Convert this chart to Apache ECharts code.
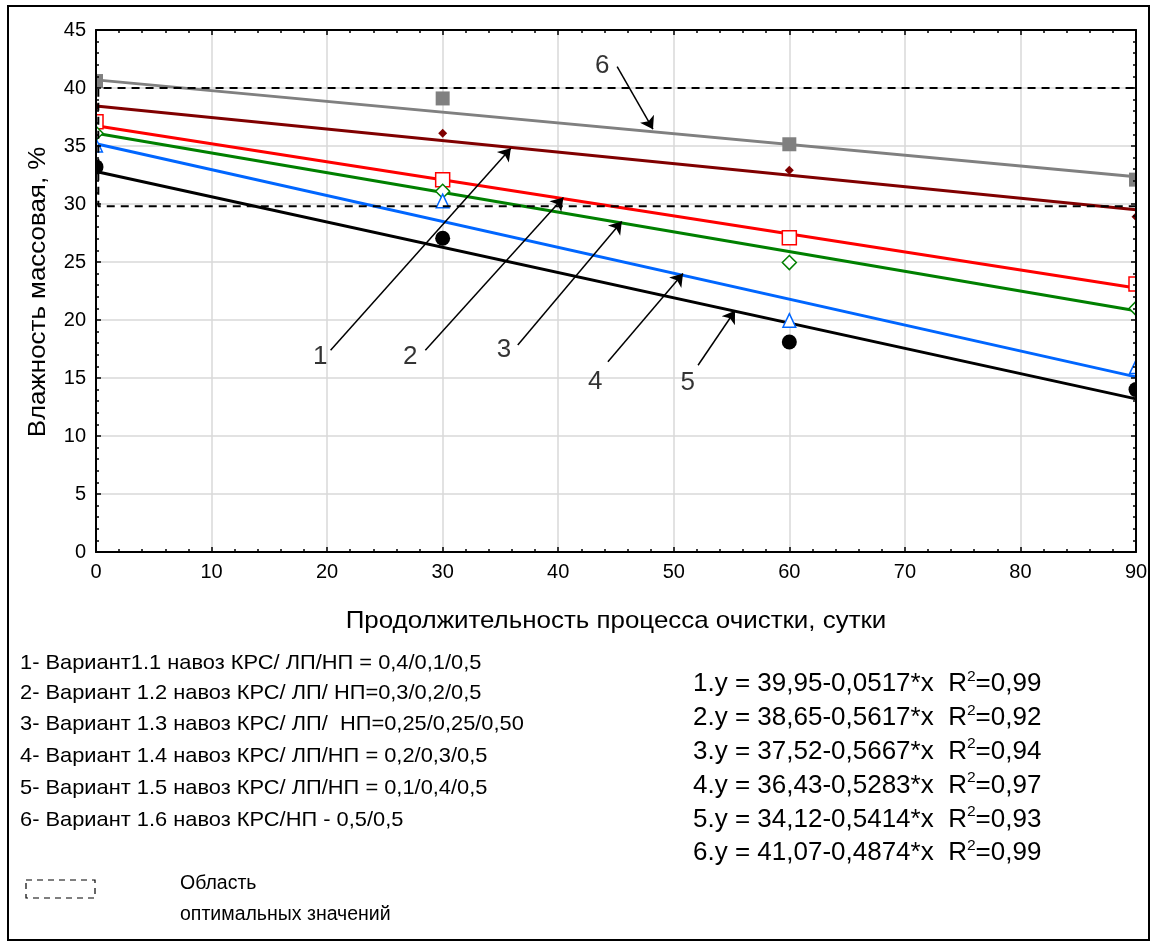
<!DOCTYPE html>
<html>
<head>
<meta charset="utf-8">
<script src="https://cdn.jsdelivr.net/npm/echarts@6/dist/echarts.min.js"></script>
<style>
html,body{margin:0;padding:0;background:#fff;}
#chart{width:1152px;height:944px;}
</style>
</head>
<body>
<div id="chart"></div>
<script>
// ---- data ----
const days = [0, 30, 60, 90];
const variant1 = [38.4, 36.1, 32.9, 28.9];   // dark red diamonds
const variant2 = [37.1, 32.1, 27.1, 23.1];   // red open squares
const variant3 = [36.1, 31.1, 24.95, 21.0];  // green open diamonds
const variant4 = [35.0, 30.2, 19.9, 15.9];   // blue open triangles
const variant5 = [33.2, 27.05, 18.1, 14.0];  // black circles
const variant6 = [40.6, 39.1, 35.15, 32.1];  // gray squares

const fitX = [0, 90];
const fit1 = [38.45, 29.5];
const fit2 = [36.75, 22.75];
const fit3 = [36.1, 20.8];
const fit4 = [35.2, 15.1];
const fit5 = [32.8, 13.2];
const fit6 = [40.7, 32.35];

// optimal region (dashed box)
const optimalBox = [[91, 40], [0.2, 40], [0.2, 29.8], [91, 29.8]];

// annotation arrows: [start, end]
const arrows = [
  [[20.3, 17.4], [35.9, 34.8]],
  [[28.5, 17.4], [40.45, 30.55]],
  [[36.5, 17.85], [45.5, 28.5]],
  [[44.3, 16.4], [50.8, 24.0]],
  [[52.1, 16.1], [55.3, 20.8]],
  [[45.1, 41.84], [48.2, 36.45]]
];
const arrowLabels = [
  ['1', 19.4, 16.8],
  ['2', 27.2, 16.8],
  ['3', 35.3, 17.4],
  ['4', 43.2, 14.7],
  ['5', 51.2, 14.55],
  ['6', 43.8, 41.9]
];

const xTicks = [0, 10, 20, 30, 40, 50, 60, 70, 80, 90];
const yTicks = [0, 5, 10, 15, 20, 25, 30, 35, 40, 45];

const xTitle = 'Продолжительность процесса очистки, сутки';
const yTitle = 'Влажность массовая, %';

const legendLines = [
  '1- Вариант1.1 навоз КРС/ ЛП/НП = 0,4/0,1/0,5',
  '2- Вариант 1.2 навоз КРС/ ЛП/ НП=0,3/0,2/0,5',
  '3- Вариант 1.3 навоз КРС/ ЛП/  НП=0,25/0,25/0,50',
  '4- Вариант 1.4 навоз КРС/ ЛП/НП = 0,2/0,3/0,5',
  '5- Вариант 1.5 навоз КРС/ ЛП/НП = 0,1/0,4/0,5',
  '6- Вариант 1.6 навоз КРС/НП - 0,5/0,5'
];
const equations = [
  ['1.y = 39,95-0,0517*x  R', '=0,99'],
  ['2.y = 38,65-0,5617*x  R', '=0,92'],
  ['3.y = 37,52-0,5667*x  R', '=0,94'],
  ['4.y = 36,43-0,5283*x  R', '=0,97'],
  ['5.y = 34,12-0,5414*x  R', '=0,93'],
  ['6.y = 41,07-0,4874*x  R', '=0,99']
];
const boxLegend = ['Область', 'оптимальных значений'];

// ---- chart ----
const FONT = '"Liberation Sans", Arial, sans-serif';
const chart = echarts.init(document.getElementById('chart'));

function pts(xs, ys) { return xs.map((x, i) => [x, ys[i]]); }

function fitSeries(ys, color) {
  return {
    type: 'line', data: pts(fitX, ys), symbol: 'none', z: 3,
    lineStyle: { color: color, width: 3 }, silent: true, animation: false
  };
}
function markSeries(ys, kind, s, fill, stroke, lw) {
  return {
    type: 'custom', data: pts(days, ys), z: 5, clip: false, silent: true, animation: false,
    encode: { x: 0, y: 1 },
    renderItem: function (params, api) {
      const p = api.coord([api.value(0), api.value(1)]);
      const x = p[0], y = p[1], h = s / 2;
      const style = { fill: fill, stroke: stroke, lineWidth: lw };
      if (kind === 'rect') return { type: 'rect', shape: { x: x - h, y: y - h, width: s, height: s }, style: style };
      if (kind === 'circle') return { type: 'circle', shape: { cx: x, cy: y, r: h }, style: style };
      if (kind === 'diamond') return { type: 'polygon', shape: { points: [[x, y - h], [x + h, y], [x, y + h], [x - h, y]] }, style: style };
      return { type: 'polygon', shape: { points: [[x, y - h], [x + h * 0.85, y + h * 0.8], [x - h * 0.85, y + h * 0.8]] }, style: style };
    }
  };
}

const graphics = [];
// outer frame
graphics.push({ type: 'rect', z: 40, shape: { x: 8, y: 6, width: 1141, height: 934 }, style: { fill: 'none', stroke: '#000', lineWidth: 2 } });
// axis titles
graphics.push({ type: 'text', z: 40, x: 616, y: 621, scaleX: 1.08, style: { text: xTitle, font: '24px ' + FONT, fill: '#000', textAlign: 'center', textVerticalAlign: 'middle' } });
graphics.push({ type: 'text', z: 40, x: 38, y: 292, rotation: Math.PI / 2, scaleX: 1.08, style: { text: yTitle, font: '24px ' + FONT, fill: '#000', textAlign: 'center', textVerticalAlign: 'middle' } });
// legend lines
const legY = [663, 693.5, 724.5, 756, 788, 820];
legendLines.forEach((t, i) => {
  graphics.push({ type: 'text', z: 40, x: 20, y: legY[i], scaleX: 1.04, style: { text: t, font: '21px ' + FONT, fill: '#000', textAlign: 'left', textVerticalAlign: 'middle' } });
});
// equations
const eqY = [683, 717, 750.5, 784.5, 818.5, 852];
equations.forEach((e, i) => {
  graphics.push({ type: 'text', z: 40, x: 693, y: eqY[i], scaleX: 1.04, style: {
    text: '{n|' + e[0] + '}{s|2}{n|' + e[1] + '}',
    rich: {
      n: { fontSize: 25, fontFamily: FONT, fill: '#000', color: '#000', lineHeight: 28, verticalAlign: 'bottom' },
      s: { fontSize: 15, fontFamily: FONT, fill: '#000', color: '#000', lineHeight: 28, verticalAlign: 'top', padding: [0, 0, 11, 0] }
    },
    textAlign: 'left', textVerticalAlign: 'middle' } });
});
// dashed box legend
graphics.push({ type: 'rect', z: 40, shape: { x: 26, y: 880, width: 69, height: 18 }, style: { fill: 'none', stroke: '#000', lineWidth: 1.2, lineDash: [6, 5] } });
graphics.push({ type: 'text', z: 40, x: 180, y: 884, style: { text: boxLegend[0], font: '19.5px ' + FONT, fill: '#000', textAlign: 'left', textVerticalAlign: 'middle' } });
graphics.push({ type: 'text', z: 40, x: 180, y: 915, style: { text: boxLegend[1], font: '19.5px ' + FONT, fill: '#000', textAlign: 'left', textVerticalAlign: 'middle' } });

const blackLine = { show: true, onZero: false, lineStyle: { color: '#000', width: 2 } };
const tick = { show: true, inside: true, length: 5, lineStyle: { color: '#000', width: 1.5 } };
const minor = { show: true, splitNumber: 5, length: 3, lineStyle: { color: '#000', width: 1.5 } };

const option = {
  backgroundColor: '#fff',
  animation: false,
  textStyle: { fontFamily: FONT },
  grid: { left: 96, right: 16, top: 30, bottom: 392, containLabel: false },
  xAxis: [
    { type: 'value', min: 0, max: 90, interval: 10, z: 0,
      axisLine: { show: false }, axisTick: { show: false },
      axisLabel: { color: '#000', fontSize: 20, fontFamily: FONT, margin: 10,
        formatter: v => xTicks.includes(v) ? String(v) : '' },
      splitLine: { show: true, lineStyle: { color: '#d9d9d9', width: 1.5 } } },
    { type: 'value', position: 'top', min: 0, max: 90, interval: 10, z: 30,
      axisLine: blackLine, axisTick: tick, minorTick: minor,
      axisLabel: { show: false }, splitLine: { show: false } },
    { type: 'value', position: 'bottom', min: 0, max: 90, interval: 10, z: 30, offset: 0,
      axisLine: blackLine, axisTick: tick, minorTick: minor,
      axisLabel: { show: false }, splitLine: { show: false } }
  ],
  yAxis: [
    { type: 'value', min: 0, max: 45, interval: 5, z: 0,
      axisLine: { show: false }, axisTick: { show: false },
      axisLabel: { color: '#000', fontSize: 20, fontFamily: FONT, margin: 10,
        formatter: v => yTicks.includes(v) ? String(v) : '' },
      splitLine: { show: true, lineStyle: { color: '#d9d9d9', width: 1.5 } } },
    { type: 'value', position: 'right', min: 0, max: 45, interval: 5, z: 30,
      axisLine: blackLine, axisTick: tick, minorTick: minor,
      axisLabel: { show: false }, splitLine: { show: false } },
    { type: 'value', position: 'left', min: 0, max: 45, interval: 5, z: 30, offset: 0,
      axisLine: blackLine, axisTick: tick, minorTick: minor,
      axisLabel: { show: false }, splitLine: { show: false } }
  ],
  graphic: { elements: graphics },
  series: [
    fitSeries(fit6, '#808080'),
    fitSeries(fit1, '#800000'),
    fitSeries(fit2, '#ff0000'),
    fitSeries(fit3, '#008000'),
    fitSeries(fit4, '#0066ff'),
    fitSeries(fit5, '#000000'),
    markSeries(variant6, 'rect', 14, '#808080', '#808080', 0),
    markSeries(variant1, 'diamond', 9, '#800000', '#800000', 0),
    markSeries(variant2, 'rect', 14, '#ffffff', '#ff0000', 1.5),
    markSeries(variant3, 'diamond', 14, '#ffffff', '#008000', 1.5),
    markSeries(variant4, 'triangle', 15, '#ffffff', '#0066ff', 1.5),
    markSeries(variant5, 'circle', 15, '#000000', '#000000', 0),
    // white masks just outside the plot box, so edge markers look clipped
    {
      type: 'custom', data: [[0, 0]], z: 20, clip: false, silent: true, animation: false,
      renderItem: function (params) {
        const cs = params.coordSys;
        return { type: 'group', children: [
          { type: 'rect', shape: { x: cs.x - 9, y: cs.y, width: 8, height: cs.height }, style: { fill: '#fff' } },
          { type: 'rect', shape: { x: cs.x + cs.width + 1, y: cs.y, width: 11, height: cs.height }, style: { fill: '#fff' } }
        ] };
      }
    },
    {
      type: 'line', data: optimalBox, symbol: 'none', clip: false, z: 25, silent: true,
      lineStyle: { color: '#000', width: 2, type: [8, 6] }
    },
    {
      type: 'lines', coordinateSystem: 'cartesian2d', z: 26, silent: true,
      symbol: ['none', 'arrow'], symbolSize: [0, 12],
      lineStyle: { color: '#000', width: 1.5, opacity: 1 },
      data: arrows.map(a => ({ coords: a }))
    },
    {
      type: 'scatter', symbolSize: 0, z: 26, silent: true, clip: false,
      data: arrowLabels.map(a => ({ name: a[0], value: [a[1], a[2]] })),
      label: { show: true, position: 'inside', formatter: p => p.name, color: '#000', fontSize: 26, fontFamily: FONT }
    }
  ]
};
chart.setOption(option);
</script>
</body>
</html>
